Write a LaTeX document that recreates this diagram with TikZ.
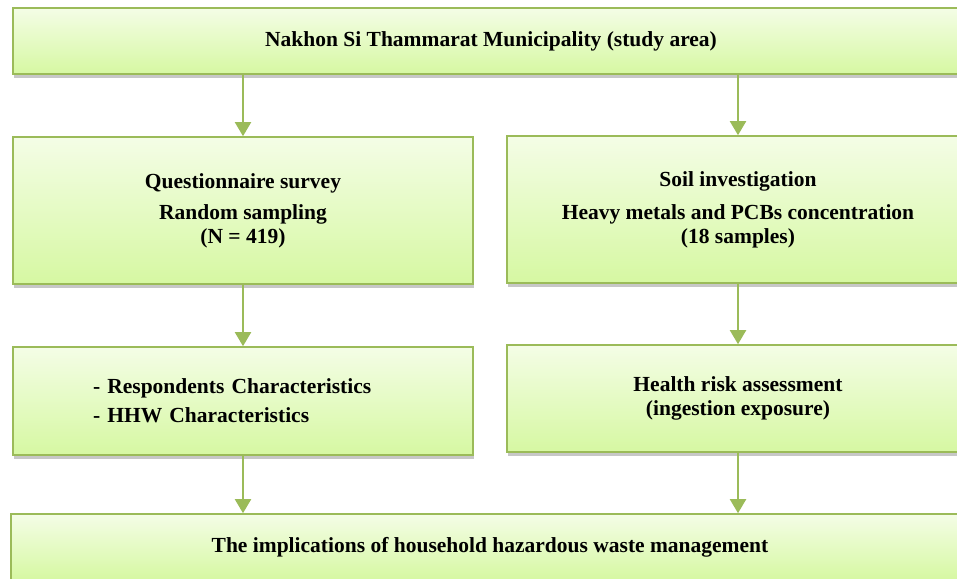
\documentclass[tikz,border=0pt]{standalone}
\usepackage{fontspec}
\setmainfont{Liberation Serif}
\usetikzlibrary{arrows.meta,shadows}
\definecolor{olive}{HTML}{9BBB59}
\definecolor{topfill}{HTML}{F4FDE6}
\definecolor{botfill}{HTML}{D6F8A2}
\tikzset{
  box/.style={draw=olive, line width=1.6pt, top color=topfill, bottom color=botfill,
    drop shadow={shadow xshift=1pt, shadow yshift=-4pt, fill=black, opacity=0.22},
    font=\fontsize{21.5}{24}\selectfont\bfseries, align=center, inner sep=0pt},
  flow/.style={draw=olive, line width=2pt, -{Triangle[width=16pt,length=14pt]}, color=olive}
}
\begin{document}
\begin{tikzpicture}[x=1pt,y=-1pt]
\useasboundingbox (0,0) rectangle (957,578);
\clip (0,0) rectangle (957,578);
\node[box, minimum width=956pt, minimum height=66pt] (top) at (491,41) {Nakhon Si Thammarat Municipality (study area)};
\node[box, minimum width=460pt, minimum height=147pt] (q) at (243,210.5) {Questionnaire survey\\[7pt]Random sampling\\(N = 419)};
\node[box, minimum width=462pt, minimum height=147pt] (s) at (738,209.5) {Soil investigation\\[9pt]Heavy metals and PCBs concentration\\(18 samples)};
\node[box, minimum width=460pt, minimum height=108pt, inner xsep=80pt, text width=300pt, align=left] (r) at (243,401) {- Respondents Characteristics\\[5pt]- HHW Characteristics};
\node[box, minimum width=462pt, minimum height=107pt] (h) at (738,398.5) {Health risk assessment\\(ingestion exposure)};
\node[box, minimum width=958pt, minimum height=66pt] (b) at (490,547) {The implications of household hazardous waste management};
\draw[flow] (q.north |- top.south) -- (q.north);
\draw[flow] (s.north |- top.south) -- (s.north);
\draw[flow] (q.south) -- (r.north);
\draw[flow] (s.south) -- (h.north);
\draw[flow] (r.south) -- (r.south |- b.north);
\draw[flow] (h.south) -- (h.south |- b.north);
\end{tikzpicture}
\end{document}
